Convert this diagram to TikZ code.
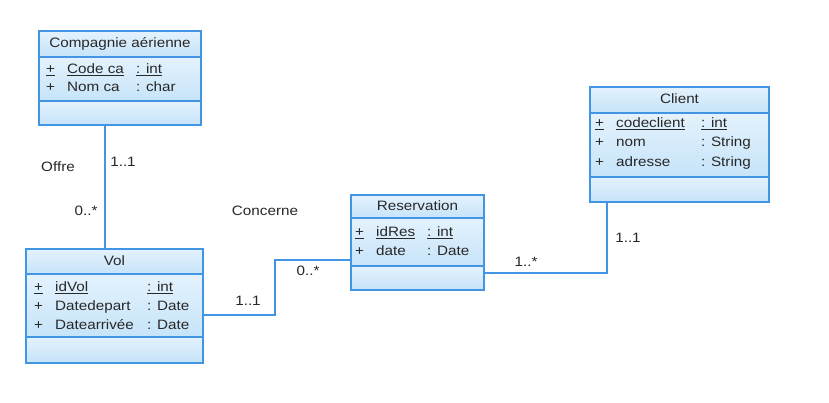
\documentclass[tikz,border=0pt]{standalone}
\usepackage{fontspec}
\setmainfont{Liberation Sans}[FakeStretch=1.12]
\definecolor{umlblue}{RGB}{66,148,228}
\definecolor{umltop}{RGB}{228,242,253}
\definecolor{umlbot}{RGB}{198,228,249}
\definecolor{txtcol}{RGB}{40,40,40}
\begin{document}
\begin{tikzpicture}[x=1pt,y=-1pt,
  comp/.style 2 args={draw=umlblue, line width=1.2pt, top color=umltop, bottom color=umlbot,
    minimum width=#1, minimum height=#2, inner sep=0pt, outer sep=0pt, anchor=north west},
  txt/.style={font=\fontsize{13.6}{16}\selectfont, inner sep=0pt, anchor=west, text=txtcol,
    text height=10pt, text depth=3pt},
  ttl/.style={txt, anchor=center},
  lbl/.style={txt, anchor=center},
  conn/.style={draw=umlblue, line width=1.2pt}]
\fill[white] (0,0) rectangle (829,403);
\useasboundingbox (0,0) rectangle (829,403);

% Compagnie aerienne
\node[comp={162pt}{26pt}] (cpT) at (39,31) {};
\node[comp={162pt}{44pt}] (cpA) at (39,57) {};
\node[comp={162pt}{24pt}] (cpM) at (39,101) {};
\node[ttl] (cpN) at (120,44) {Compagnie aérienne};
\node[txt] (cp1a) at (46,70) {\underline{+}};
\node[txt] (cp1b) at (67,70) {\underline{Code ca}};
\node[txt] (cp1c) at (136,70) {\underline{: int}};
\node[txt] (cp2a) at (46,88) {+};
\node[txt] (cp2b) at (67,88) {Nom ca};
\node[txt] (cp2c) at (136,88) {: char};

% Vol
\node[comp={177pt}{25pt}] (vT) at (26,249) {};
\node[comp={177pt}{63pt}] (vA) at (26,274) {};
\node[comp={177pt}{26pt}] (vM) at (26,337) {};
\node[ttl] (vN) at (114.5,262) {Vol};
\node[txt] (v1a) at (34,288) {\underline{+}};
\node[txt] (v1b) at (55,288) {\underline{idVol}};
\node[txt] (v1c) at (147,288) {\underline{: int}};
\node[txt] (v2a) at (34,307) {+};
\node[txt] (v2b) at (55,307) {Datedepart};
\node[txt] (v2c) at (147,307) {: Date};
\node[txt] (v3a) at (34,326) {+};
\node[txt] (v3b) at (55,326) {Datearrivée};
\node[txt] (v3c) at (147,326) {: Date};

% Reservation
\node[comp={133pt}{23pt}] (rT) at (351,195) {};
\node[comp={133pt}{48pt}] (rA) at (351,218) {};
\node[comp={133pt}{24pt}] (rM) at (351,266) {};
\node[ttl] (rN) at (417.5,207) {Reservation};
\node[txt] (r1a) at (355,233) {\underline{+}};
\node[txt] (r1b) at (376,233) {\underline{idRes}};
\node[txt] (r1c) at (427,233) {\underline{: int}};
\node[txt] (r2a) at (355,252) {+};
\node[txt] (r2b) at (376,252) {date};
\node[txt] (r2c) at (427,252) {: Date};

% Client
\node[comp={179pt}{26pt}] (cT) at (590,87) {};
\node[comp={179pt}{64pt}] (cA) at (590,113) {};
\node[comp={179pt}{25pt}] (cM) at (590,177) {};
\node[ttl] (cN) at (679.5,100) {Client};
\node[txt] (c1a) at (595,124) {\underline{+}};
\node[txt] (c1b) at (616,124) {\underline{codeclient}};
\node[txt] (c1c) at (701,124) {\underline{: int}};
\node[txt] (c2a) at (595,143) {+};
\node[txt] (c2b) at (616,143) {nom};
\node[txt] (c2c) at (701,143) {: String};
\node[txt] (c3a) at (595,163) {+};
\node[txt] (c3b) at (616,163) {adresse};
\node[txt] (c3c) at (701,163) {: String};

% Connectors
\draw[conn] ([xshift=-15pt]cpM.south) coordinate (o1) -- (o1 |- vT.north);
\draw[conn] ([yshift=-9.5pt]vA.east) -- ++(72,0) |- ([yshift=-18pt]rA.west);
\draw[conn] ([yshift=5pt]rM.east) -| ([xshift=-72.5pt]cM.south);

% Labels
\node[lbl] (l1) at (58,168) {Offre};
\node[lbl] (l2) at (123,163) {1..1};
\node[lbl] (l3) at (86,212) {0..*};
\node[lbl] (l4) at (265,212) {Concerne};
\node[lbl] (l5) at (308,272) {0..*};
\node[lbl] (l6) at (248,302) {1..1};
\node[lbl] (l7) at (526,263) {1..*};
\node[lbl] (l8) at (628,239) {1..1};
\end{tikzpicture}
\end{document}
